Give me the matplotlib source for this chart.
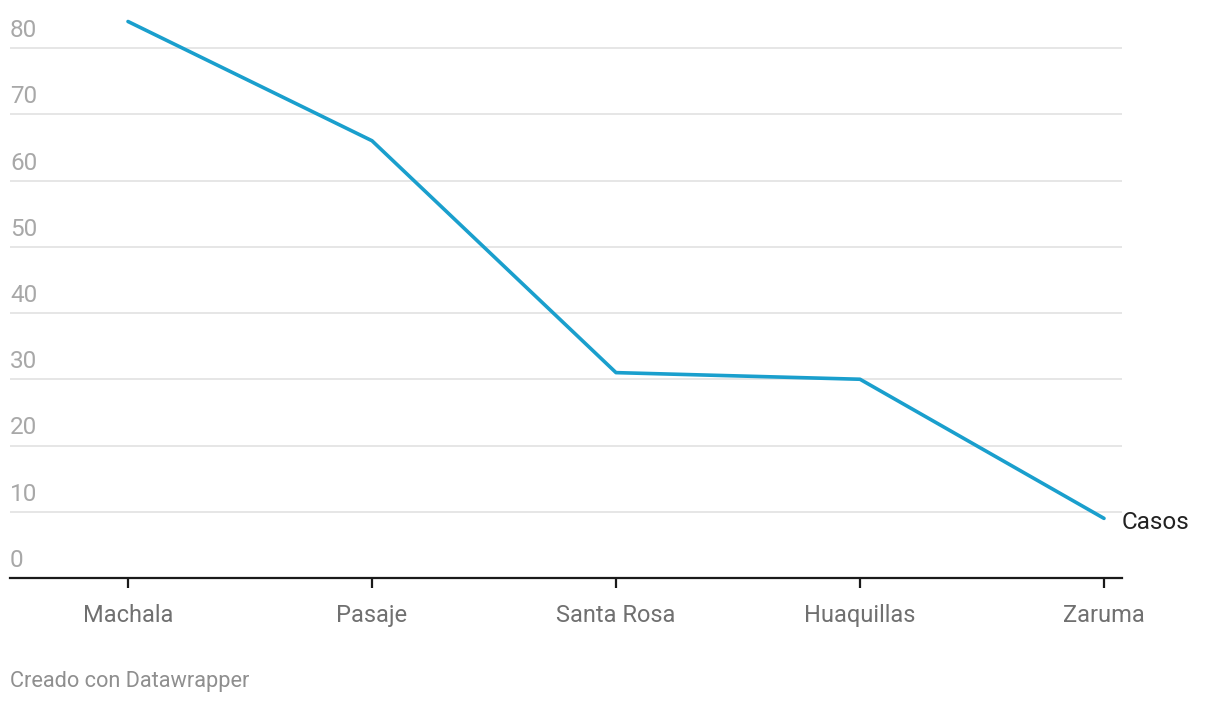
import matplotlib.pyplot as plt

plt.rcParams['font.family'] = ['Roboto', 'DejaVu Sans']

cities = ['Machala', 'Pasaje', 'Santa Rosa', 'Huaquillas', 'Zaruma']
casos = [84, 66, 31, 30, 9]
yticks = [0, 10, 20, 30, 40, 50, 60, 70, 80]

W, H = 1220, 704
fig = plt.figure(figsize=(W / 100, H / 100), dpi=100)
ax = fig.add_axes([10 / W, 1 - 578 / H, 1112 / W, 568 / H])

x = list(range(len(cities)))
ax.plot(x, casos, color='#1a9fcd', lw=2.6, solid_capstyle='round', zorder=3)

ax.set_xlim(-118 / 244, 4 + 18 / 244)
ax.set_ylim(0, 568 / 6.625)

for v in yticks[1:]:
    ax.axhline(v, color='#e1e1e1', lw=1.2, zorder=1)
for v in yticks:
    ax.annotate(str(v), (0, v), xycoords=('axes fraction', 'data'),
                xytext=(0, 6), textcoords='offset pixels',
                ha='left', va='bottom', fontsize=17.5, color='#a8a8a8')

for s in ['top', 'right', 'left']:
    ax.spines[s].set_visible(False)
ax.spines['bottom'].set_color('#1a1a1a')
ax.spines['bottom'].set_linewidth(1.6)
ax.set_yticks([])
ax.set_xticks(x, cities)
ax.tick_params(axis='x', length=7.5, width=1.6, color='#1a1a1a',
               pad=11, labelsize=17, labelcolor='#707070')

ax.annotate('Casos', (x[-1], casos[-1]), xytext=(18, -4), textcoords='offset pixels',
            ha='left', va='center', fontsize=17.5, color='#222222',
            annotation_clip=False)

fig.text(10 / W, 1 - 681 / H, 'Creado con Datawrapper', ha='left', va='center',
         fontsize=15.7, color='#8f8f8f')

fig.savefig('out.png', dpi=100)
